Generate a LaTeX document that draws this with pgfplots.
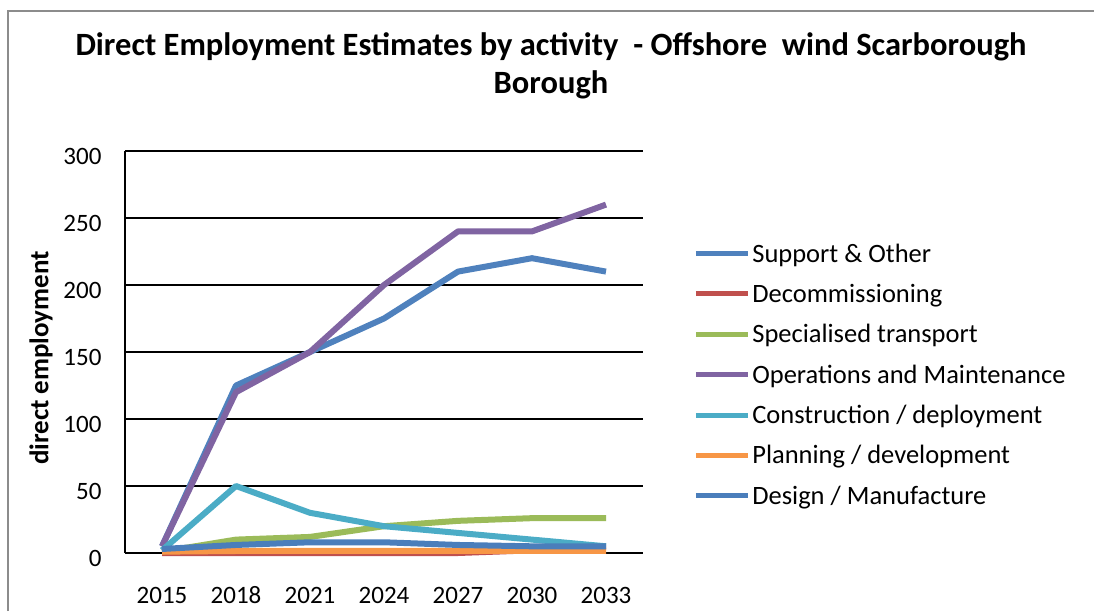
\documentclass[border=0pt]{standalone}
\usepackage{pgfplots}
\pgfplotsset{compat=1.18}
\usepackage{fontspec}
\setmainfont{Carlito}
\definecolor{cblue}{HTML}{4F81BD}
\definecolor{cred}{HTML}{C0504D}
\definecolor{cgreen}{HTML}{9BBB59}
\definecolor{cpurple}{HTML}{8064A2}
\definecolor{caqua}{HTML}{4BACC6}
\definecolor{corange}{HTML}{F79646}
\definecolor{cblue2}{HTML}{4A7EBB}
\begin{document}
\begin{tikzpicture}[x=1pt,y=1pt]
\useasboundingbox (0,0) rectangle (1094,611);
\draw[color=black!45,line width=2pt] (8,0) -- (8,600) -- (1094,600);
\node[anchor=base,font=\bfseries\fontsize{32.5}{38}\selectfont] at (551,555) {Direct Employment Estimates by activity\ \ - Offshore\ \ wind Scarborough};
\node[anchor=base,font=\bfseries\fontsize{32.5}{38}\selectfont] at (551,517) {Borough};
\begin{axis}[
  at={(125pt,58pt)}, anchor=south west,
  width=518pt, height=402pt, scale only axis,
  xmin=-0.5, xmax=6.5, ymin=0, ymax=300,
  xtick={0,1,2,3,4,5,6},
  xticklabels={2015,2018,2021,2024,2027,2030,2033},
  ytick={0,50,100,150,200,250,300},
  axis x line=bottom, axis y line=left,
  axis line style={line width=2pt,-},
  ymajorgrids, grid style={line width=2pt,black},
  major tick length=0pt,
  /pgf/number format/assume math mode=true,
  ticklabel style={font=\fontsize{25}{30}\selectfont},
  yticklabel style={xshift=-20pt,yshift=-5pt},
  xticklabel style={anchor=base,yshift=-50pt},
  ylabel={direct employment},
  every axis y label/.style={at={(axis description cs:-0.162,0.485)},rotate=90,anchor=center,font=\bfseries\fontsize{27}{32}\selectfont},
  legend style={at={(axis description cs:1.091,0.78)},anchor=north west,draw=none,fill=none,
    font=\fontsize{26.5}{31}\selectfont, row sep=16.5pt, cells={anchor=west},
    legend cell align=left},
  legend image code/.code={\draw[line width=5pt,#1] (0pt,0pt) -- (52pt,0pt);},
  every axis plot/.append style={line width=6pt,line join=round},
  clip=false,
]
\addplot[cblue,no marks] coordinates {(0,5) (1,125) (2,150) (3,175) (4,210) (5,220) (6,210)};
\addlegendentry{Support \& Other}
\addplot[cred,no marks] coordinates {(0,0) (1,0) (2,0) (3,0) (4,0) (5,2) (6,5)};
\addlegendentry{Decommissioning}
\addplot[cgreen,no marks] coordinates {(0,1) (1,10) (2,12) (3,20) (4,24) (5,26) (6,26)};
\addlegendentry{Specialised transport}
\addplot[cpurple,no marks] coordinates {(0,5) (1,120) (2,150) (3,200) (4,240) (5,240) (6,260)};
\addlegendentry{Operations and Maintenance}
\addplot[caqua,no marks] coordinates {(0,2) (1,50) (2,30) (3,20) (4,15) (5,10) (6,5)};
\addlegendentry{Construction / deployment}
\addplot[corange,no marks] coordinates {(0,1) (1,1.5) (2,1.5) (3,1.5) (4,1.5) (5,1.5) (6,1.5)};
\addlegendentry{Planning / development}
\addplot[cblue2,no marks] coordinates {(0,3) (1,6) (2,8) (3,8) (4,6) (5,5) (6,5)};
\addlegendentry{Design / Manufacture}
\end{axis}
\end{tikzpicture}
\end{document}
